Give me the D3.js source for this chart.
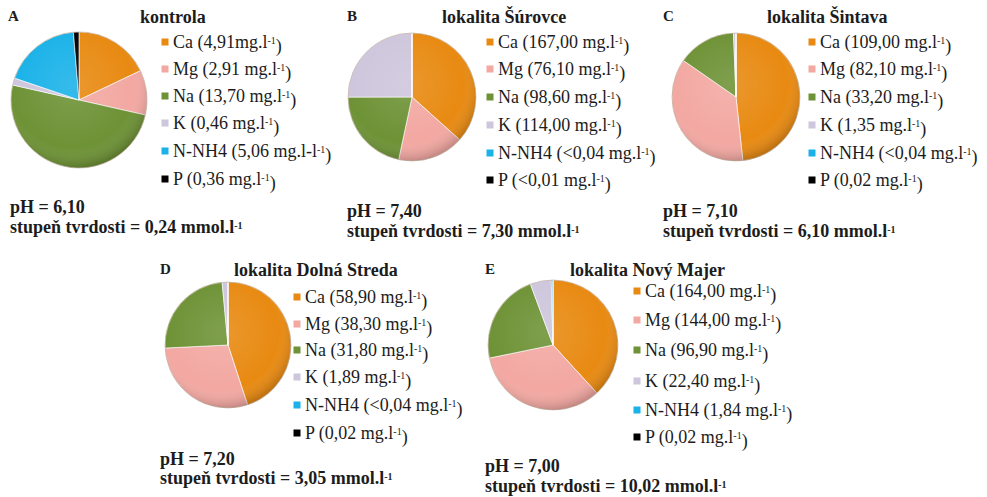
<!DOCTYPE html>
<html><head><meta charset="utf-8">
<script src="https://cdn.jsdelivr.net/npm/d3@7"></script>
<style>
html,body{margin:0;padding:0;background:#fff;}
svg{display:block;}
</style></head><body>
<svg id="chart" width="987" height="497"></svg>
<script>
// ---- data ----
const ions = ["Ca", "Mg", "Na", "K", "N-NH4", "P"];
const ionColors = ["#E88A12", "#F3A8A2", "#6E9236", "#CEC6DC", "#1AB2E8", "#000000"];
const panelLetters = ["A", "B", "C", "D", "E"];
const panelTitles = ["kontrola", "lokalita Šúrovce", "lokalita Šintava", "lokalita Dolná Streda", "lokalita Nový Majer"];
const valuesA = [4.91, 2.91, 13.70, 0.46, 5.06, 0.36];
const valuesB = [167.00, 76.10, 98.60, 114.00, 0.04, 0.01];
const valuesC = [109.00, 82.10, 33.20, 1.35, 0.04, 0.02];
const valuesD = [58.90, 38.30, 31.80, 1.89, 0.04, 0.02];
const valuesE = [164.00, 144.00, 96.90, 22.40, 1.84, 0.02];
const labelsA = ["4,91mg.l", "2,91 mg.l", "13,70 mg.l", "0,46 mg.l", "5,06 mg.l-l", "0,36 mg.l"];
const labelsB = ["167,00 mg.l", "76,10 mg.l", "98,60 mg.l", "114,00 mg.l", "<0,04 mg.l", "<0,01 mg.l"];
const labelsC = ["109,00 mg.l", "82,10 mg.l", "33,20 mg.l", "1,35 mg.l", "<0,04 mg.l", "0,02 mg.l"];
const labelsD = ["58,90 mg.l", "38,30 mg.l", "31,80 mg.l", "1,89 mg.l", "<0,04 mg.l", "0,02 mg.l"];
const labelsE = ["164,00 mg.l", "144,00 mg.l", "96,90 mg.l", "22,40 mg.l", "1,84 mg.l", "0,02 mg.l"];
const pHValues = ["6,10", "7,40", "7,10", "7,20", "7,00"];
const hardnessValues = ["0,24", "7,30", "6,10", "3,05", "10,02"];

// ---- layout ----
const FONT = "Liberation Serif";
const layout = [
  {cx: 79, cy: 100, r: 68, lx: 8, ly: 16, tx: 140, ty: 17, mx: 165, rows: [42, 69, 96, 123, 151, 179], px: 10, py: [207, 227]},
  {cx: 412, cy: 97, r: 64, lx: 347, ly: 16, tx: 442, ty: 17, mx: 490, rows: [42, 69, 97, 125, 153, 180], px: 347, py: [211, 231]},
  {cx: 736, cy: 97, r: 64, lx: 663, ly: 16, tx: 767, ty: 17, mx: 812, rows: [42, 69, 97, 125, 153, 180], px: 663, py: [211, 231]},
  {cx: 228, cy: 345, r: 63, lx: 160, ly: 269, tx: 234, ty: 270, mx: 297, rows: [297, 324, 350, 377, 405, 433], px: 160, py: [459, 478]},
  {cx: 553, cy: 345, r: 65, lx: 485, ly: 269, tx: 570, ty: 270, mx: 637, rows: [291, 320, 350, 381, 410, 437], px: 485, py: [466, 486]}
];

const allValues = [valuesA, valuesB, valuesC, valuesD, valuesE];
const allLabels = [labelsA, labelsB, labelsC, labelsD, labelsE];

const svg = d3.select("#chart").attr("font-family", FONT);
const defs = svg.append("defs");
const shade = defs.append("radialGradient").attr("id", "shade")
  .attr("cx", "45%").attr("cy", "40%").attr("r", "60%");
shade.append("stop").attr("offset", "0%").attr("stop-color", "#fff").attr("stop-opacity", 0.12);
shade.append("stop").attr("offset", "75%").attr("stop-color", "#fff").attr("stop-opacity", 0);
shade.append("stop").attr("offset", "100%").attr("stop-color", "#000").attr("stop-opacity", 0.18);

const color = d3.scaleOrdinal().domain(ions).range(ionColors);
const pie = d3.pie().sort(null).value(d => d.v);

function txt(sel) {
  return sel.attr("font-family", FONT).attr("fill", "#1c1c1c");
}

allValues.forEach((vals, i) => {
  const L = layout[i];
  const g = svg.append("g");
  const data = ions.map((ion, k) => ({ion, v: vals[k], lab: allLabels[i][k]}));
  const arc = d3.arc().innerRadius(0).outerRadius(L.r);
  const pg = g.append("g").attr("transform", `translate(${L.cx},${L.cy})`);
  pg.selectAll("path").data(pie(data)).join("path")
    .attr("d", arc).attr("fill", d => color(d.data.ion))
    .attr("stroke", "#fff").attr("stroke-width", 0.6);
  pg.append("circle").attr("r", L.r).attr("fill", "url(#shade)").attr("stroke", "#8a6a4a").attr("stroke-opacity", 0.35).attr("stroke-width", 1);

  txt(g.append("text")).attr("x", L.lx).attr("y", L.ly).attr("dy", "0.35em")
    .attr("font-weight", "bold").attr("font-size", 15).text(panelLetters[i]);
  txt(g.append("text")).attr("x", L.tx).attr("y", L.ty).attr("dy", "0.35em")
    .attr("font-weight", "bold").attr("font-size", 18).text(panelTitles[i]);

  const leg = g.selectAll("g.leg").data(data).join("g").attr("class", "leg")
    .attr("transform", (d, k) => `translate(${L.mx},${L.rows[k]})`);
  leg.append("rect").attr("x", -3.5).attr("y", -3.5).attr("width", 7).attr("height", 7)
    .attr("fill", d => color(d.ion));
  const t = txt(leg.append("text")).attr("x", 8).attr("dy", "0.35em").attr("font-size", 18);
  t.append("tspan").text(d => `${d.ion} (${d.lab}`);
  t.append("tspan").attr("dy", "-0.45em").attr("font-size", 10).text("-1");
  t.append("tspan").attr("dy", "0.45em").text(")");

  txt(g.append("text")).attr("x", L.px).attr("y", L.py[0]).attr("dy", "0.35em")
    .attr("font-weight", "bold").attr("font-size", 18).text(`pH = ${pHValues[i]}`);
  const h = txt(g.append("text")).attr("x", L.px).attr("y", L.py[1]).attr("dy", "0.35em")
    .attr("font-weight", "bold").attr("font-size", 18);
  h.append("tspan").text(`stupeň tvrdosti = ${hardnessValues[i]} mmol.l`);
  h.append("tspan").attr("dy", "-0.45em").attr("font-size", 10).text("-1");
});
</script>
</body></html>
